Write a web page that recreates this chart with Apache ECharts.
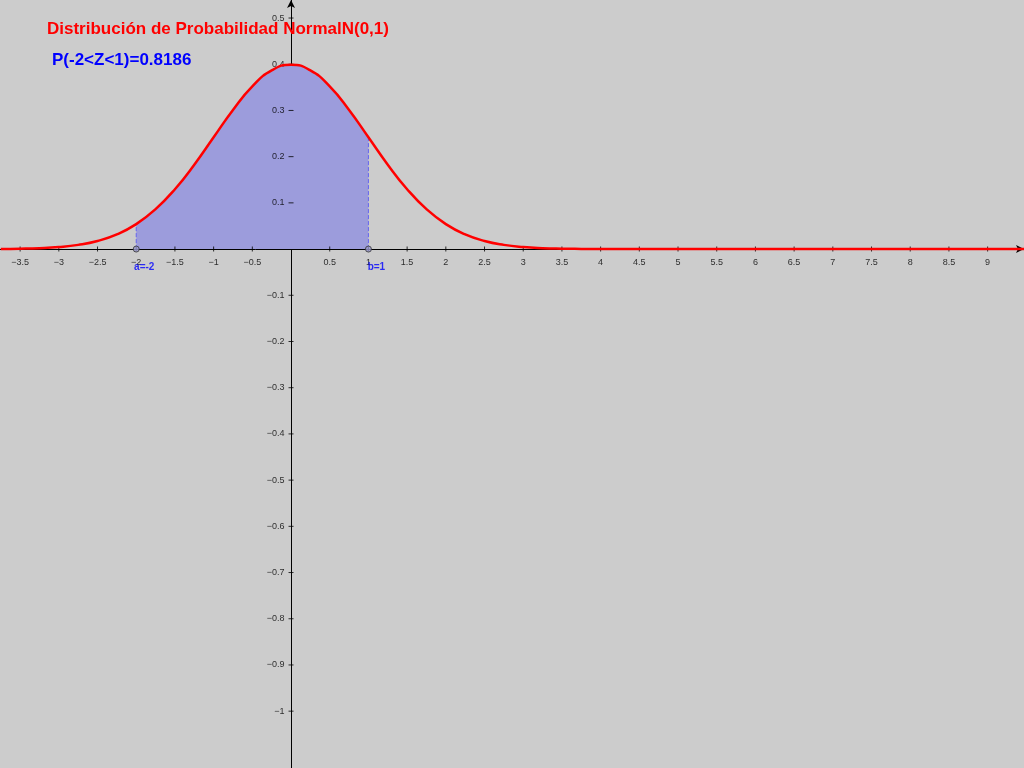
<!DOCTYPE html>
<html><head><meta charset="utf-8">
<script src="https://cdn.jsdelivr.net/npm/echarts@6/dist/echarts.min.js"></script>
<style>html,body{margin:0;padding:0;background:#cccccc}#c{width:1024px;height:768px}</style>
</head><body><div id="c"></div>
<script>
const xs = [-3.75,-3.5,-3.25,-3,-2.75,-2.5,-2.25,-2,-1.75,-1.5,-1.25,-1,-0.75,-0.5,-0.25,0,0.25,0.5,0.75,1,1.25,1.5,1.75,2,2.25,2.5,2.75,3,3.25,3.5,3.75,4,5,6,7,8,9,9.5];
const ys = [0.0004,0.0009,0.0020,0.0044,0.0091,0.0175,0.0317,0.0540,0.0863,0.1295,0.1826,0.2420,0.3011,0.3521,0.3867,0.3989,0.3867,0.3521,0.3011,0.2420,0.1826,0.1295,0.0863,0.0540,0.0317,0.0175,0.0091,0.0044,0.0020,0.0009,0.0004,0.0001,0,0,0,0,0,0];
const xTicks = [-3.5,-3,-2.5,-2,-1.5,-1,-0.5,0.5,1,1.5,2,2.5,3,3.5,4,4.5,5,5.5,6,6.5,7,7.5,8,8.5,9];
const yTicks = [0.5,0.4,0.3,0.2,0.1,-0.1,-0.2,-0.3,-0.4,-0.5,-0.6,-0.7,-0.8,-0.9,-1];
const a = -2, b = 1;
const titleText = 'Distribución de Probabilidad NormalN(0,1)';
const probText = 'P(-2<Z<1)=0.8186';
const curve = xs.map((x,i)=>[x,ys[i]]);
const shade = curve.filter(p=>p[0]>=a && p[0]<=b);
const fmt = v => String(v).replace('-', '\u2212');
const chart = echarts.init(document.getElementById('c'));
chart.setOption({
  backgroundColor:'#cccccc',
  animation:false,
  title:[
    {text:titleText,left:42,top:16,textStyle:{color:'#ff0000',fontSize:17,fontWeight:'bold',fontFamily:'Liberation Sans'}},
    {text:probText,left:47,top:47,textStyle:{color:'#0000ff',fontSize:17,fontWeight:'bold',fontFamily:'Liberation Sans'}}
  ],
  grid:{left:0,right:0,top:0,bottom:0,outerBoundsMode:'none',containLabel:false},
  xAxis:{type:'value',min:-3.76,max:9.47,splitLine:{show:false},axisTick:{show:false},axisLabel:{show:false},
    axisLine:{onZero:true,symbol:['none','arrow'],symbolSize:[6,8],lineStyle:{color:'#000'}}},
  yAxis:{type:'value',min:-1.123,max:0.539,splitLine:{show:false},axisTick:{show:false},axisLabel:{show:false},
    axisLine:{onZero:true,symbol:['none','arrow'],symbolSize:[6,8],lineStyle:{color:'#000'}}},
  series:[
    {type:'line',data:shade,smooth:true,symbol:'none',lineStyle:{width:0},
     areaStyle:{color:'#9c9cdc',opacity:1},z:1},
    {type:'line',data:[[a,0],[a,ys[xs.indexOf(a)]]],symbol:'none',lineStyle:{color:'#6666ee',type:'dashed',width:1},z:2},
    {type:'line',data:[[b,0],[b,ys[xs.indexOf(b)]]],symbol:'none',lineStyle:{color:'#6666ee',type:'dashed',width:1},z:2},
    {type:'line',data:curve,smooth:true,symbol:'none',lineStyle:{color:'#ff0000',width:2.5},z:3},
    {type:'scatter',data:xTicks.map(v=>[v,0]),symbol:'rect',symbolSize:[1,5],itemStyle:{color:'#000'},silent:true,
     label:{show:true,position:'bottom',distance:6,formatter:p=>fmt(p.data[0]),color:'#000',fontSize:9},z:2},
    {type:'scatter',data:yTicks.map(v=>[0,v]),symbol:'rect',symbolSize:[5,1],itemStyle:{color:'#000'},silent:true,
     label:{show:true,position:'left',distance:4,formatter:p=>fmt(p.data[1]),color:'#000',fontSize:9},z:2},
    {type:'scatter',data:[[a,0,'a=-2'],[b,0,'b=1']],symbolSize:6,
     itemStyle:{color:'#9a9acc',borderColor:'#333',borderWidth:1},
     label:{show:true,position:'bottom',offset:[8,5],formatter:p=>p.data[2],color:'#0000ff',fontWeight:'bold',fontSize:10},z:4}
  ]
});
</script></body></html>
